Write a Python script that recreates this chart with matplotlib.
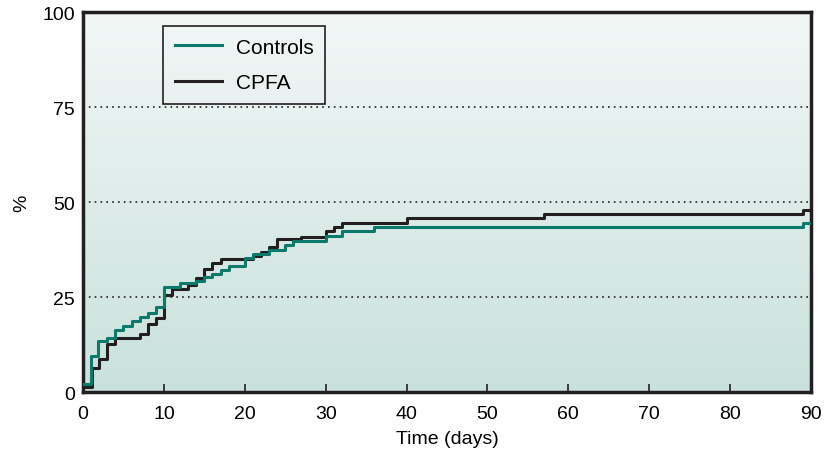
# -*- coding: utf-8 -*-
# Cumulative incidence step curves, Controls vs CPFA

import matplotlib
matplotlib.use('Agg')
import matplotlib.pyplot as plt
import numpy as np
from matplotlib.colors import LinearSegmentedColormap

plt.rcParams['font.family'] = ['Liberation Sans', 'DejaVu Sans']

# data (day, %)
ctrl_days = [0, 1, 1.9, 3, 4, 5, 6, 7, 8, 9, 10, 12, 14, 15, 16, 17, 18, 20, 21,
             23, 25, 26, 30, 32, 36, 89, 90]
ctrl_pct = [2.0, 9.5, 13.3, 14.3, 16.2, 17.3, 18.7, 19.7, 20.8, 22.3, 27.6, 28.6,
            29.2, 30.2, 31.0, 32.0, 33.2, 35.3, 36.2, 37.3, 38.6, 39.7, 41.0, 42.3,
            43.4, 44.6, 44.6]

cpfa_days = [0, 1.1, 2, 3, 4, 7, 8, 9, 10, 11, 13, 14, 15, 16, 17, 21, 22, 23, 24,
             27, 30, 31, 32, 40, 57, 89, 90]
cpfa_pct = [1.2, 6.3, 8.8, 12.7, 14.3, 15.3, 17.8, 19.5, 25.5, 27.0, 28.3, 30.0,
            32.5, 34.0, 35.0, 35.7, 36.9, 38.2, 40.2, 40.8, 42.4, 43.5, 44.6, 45.9,
            46.8, 48.0, 48.0]

x_ticks = [0, 10, 20, 30, 40, 50, 60, 70, 80, 90]
y_ticks = [0, 25, 50, 75, 100]

green = '#0b7a6a'
dark = '#231f20'

fig = plt.figure(figsize=(8.25, 4.52), dpi=100)
ax = fig.add_axes([0.1006, 0.1305, 0.8824, 0.8405])

# background gradient, light at top, pale teal at bottom
cmap = LinearSegmentedColormap.from_list('bg', ['#c9e1dc', '#f2f7f6'])
grad = np.linspace(0, 1, 256).reshape(-1, 1)
ax.imshow(grad, cmap=cmap, aspect='auto', origin='lower',
          extent=[0, 90, 0, 100], zorder=0)

for yv in [25, 50, 75]:
    ax.axhline(yv, color=dark, linestyle=(0, (1, 2.5)), linewidth=1.2, zorder=1)

ax.step(ctrl_days, ctrl_pct, where='post', color=green, linewidth=2.2,
        label='Controls', zorder=3)
ax.step(cpfa_days, cpfa_pct, where='post', color=dark, linewidth=2.2,
        label='CPFA', zorder=2)

ax.set_xlim(0, 90)
ax.set_ylim(0, 100)
ax.set_xticks(x_ticks)
ax.set_yticks(y_ticks)
ax.tick_params(axis='x', direction='in', length=6, width=1.2, color=dark,
               labelsize=14, pad=9)
ax.tick_params(axis='y', length=0, labelsize=14, pad=6)
for s in ax.spines.values():
    s.set_linewidth(2.5)
    s.set_color(dark)

ax.set_xlabel('Time (days)', fontsize=14, labelpad=6)
ax.set_ylabel('%', fontsize=14)
ax.yaxis.set_label_coords(-0.072, 0.5)

leg = ax.legend(loc='upper left', bbox_to_anchor=(0.11, 0.963), borderaxespad=0,
                fontsize=15, frameon=True, fancybox=False, framealpha=1,
                handlelength=2.3, handletextpad=0.65, labelspacing=0.8,
                borderpad=0.55)
leg.get_frame().set_edgecolor(dark)
leg.get_frame().set_linewidth(1.2)
leg.get_frame().set_facecolor('none')

fig.savefig('out.png', dpi=100)
